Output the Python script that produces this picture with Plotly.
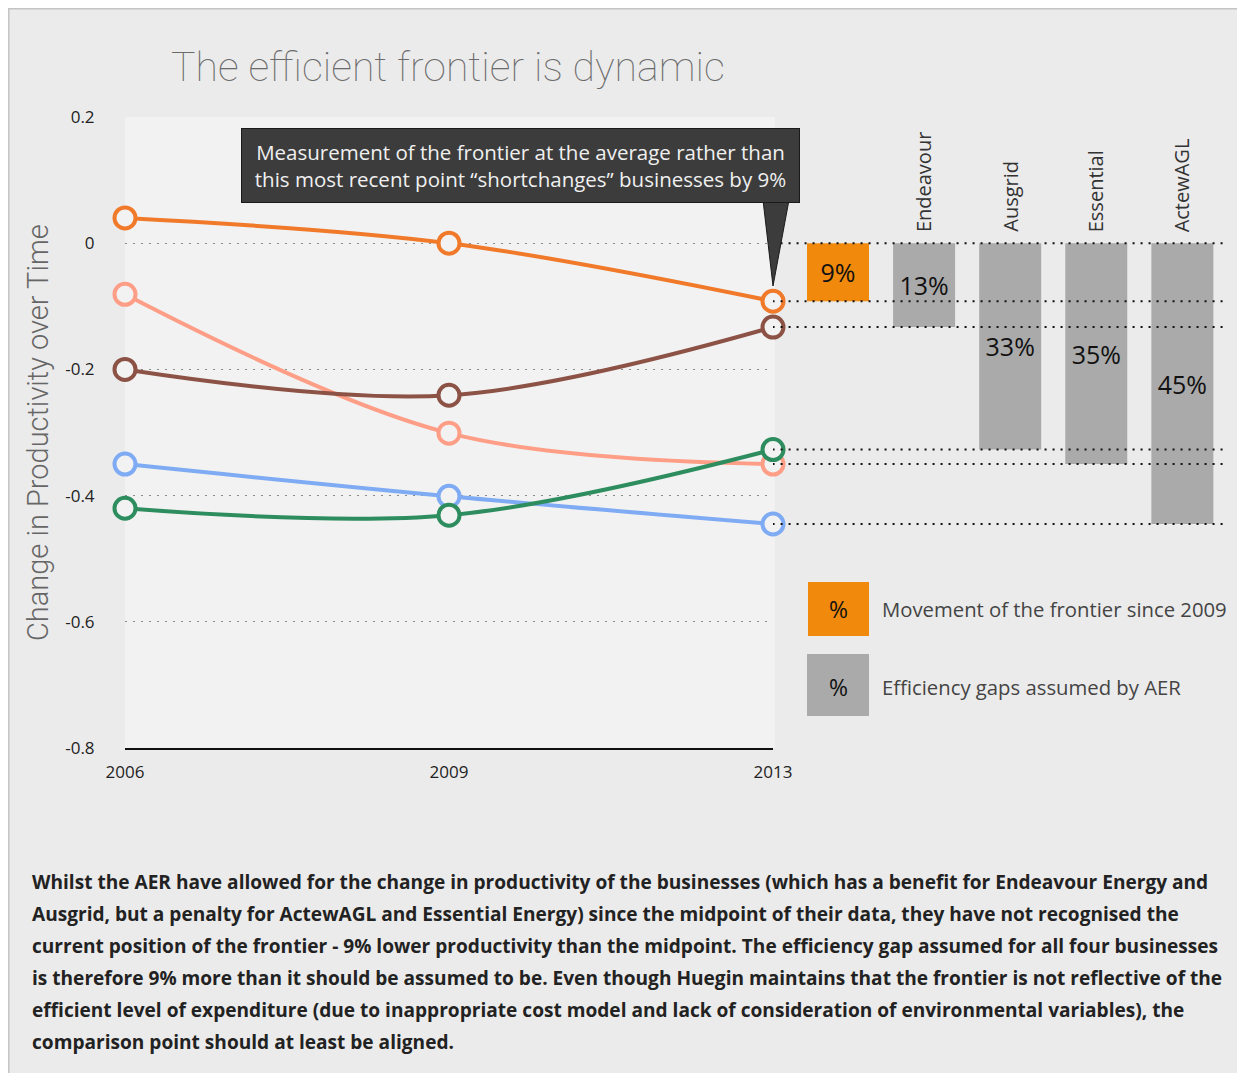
import plotly.graph_objects as go

# page offset: the html body adds an 8px margin around the figure
OFF = 8
W, H = 1245 - OFF, 1073 - OFF

# line chart data (change in productivity)
years = ["2006", "2009", "2013"]
frontier = [0.04, 0.0, -0.092]
essential = [-0.081, -0.301, -0.35]
endeavour = [-0.2, -0.241, -0.133]
actewagl = [-0.35, -0.401, -0.445]
ausgrid = [-0.42, -0.431, -0.327]

y_tickvals = [0.2, 0, -0.2, -0.4, -0.6, -0.8]
y_ticktext = ["0.2", "0", "-0.2", "-0.4", "-0.6", "-0.8"]

# bars on the right
bar_names = ["Frontier", "Endeavour", "Ausgrid", "Essential", "ActewAGL"]
bar_labels = ["9%", "13%", "33%", "35%", "45%"]

FONT = "Open Sans"
BG = "#ebebeb"
PLOT_BG = "#f2f2f2"


def px(x):
    return (x - OFF) / W


def py(y):
    return 1 - (y - OFF) / H


fig = go.Figure()

series = [
    ("Essential", essential, "#ff9e86"),
    ("ActewAGL", actewagl, "#7eabf3"),
    ("Endeavour", endeavour, "#8c5245"),
    ("Ausgrid", ausgrid, "#2e8d5e"),
    ("Frontier", frontier, "#f07a2a"),
]
for name, vals, col in series:
    fig.add_trace(go.Scatter(
        x=years, y=vals, name=name, mode="lines+markers",
        line=dict(color=col, width=4, shape="spline", smoothing=1),
        marker=dict(size=21, color=PLOT_BG, line=dict(color=col, width=4)),
        cliponaxis=False, xaxis="x", yaxis="y",
    ))

# dotted connectors from the 2013 points across to the bars
base = frontier[1]
levels = [base, frontier[2], endeavour[2], ausgrid[2], essential[2], actewagl[2]]
cx, cy = [], []
for lv in levels:
    cx += [-0.76, 4.53, None]
    cy += [lv, lv, None]
fig.add_trace(go.Scatter(
    x=cx, y=cy, mode="lines", xaxis="x2", yaxis="y2", hoverinfo="skip",
    line=dict(color="#111111", width=2, dash="2px,6px"), cliponaxis=False,
))

bar_vals = [frontier[2] - base, endeavour[2] - base, ausgrid[2] - base,
            essential[2] - base, actewagl[2] - base]
fig.add_trace(go.Bar(
    x=list(range(len(bar_names))), y=bar_vals, base=base,
    text=bar_labels, textposition="inside", insidetextanchor="middle",
    textangle=0, constraintext="none",
    textfont=dict(family=FONT, size=25, color="#111111"),
    marker=dict(color=["#f18a0c", "#aaaaaa", "#aaaaaa", "#aaaaaa", "#aaaaaa"],
                line=dict(width=0)),
    width=0.72, xaxis="x2", yaxis="y2",
))

ydom = [py(748), py(117)]
fig.update_layout(
    width=W, height=H,
    paper_bgcolor=BG, plot_bgcolor=BG,
    margin=dict(l=0, r=0, t=0, b=0, autoexpand=False),
    showlegend=False,
    font=dict(family=FONT, color="#222222"),
    xaxis=dict(
        domain=[px(125), px(773)], type="category", range=[0, 2],
        showgrid=False, showline=True, linecolor="#111111", linewidth=1.5,
        ticks="outside", ticklen=8, tickcolor="rgba(0,0,0,0)",
        tickfont=dict(size=17, color="#222222"), zeroline=False, automargin=False,
    ),
    yaxis=dict(
        domain=ydom, range=[-0.8, 0.2],
        tickvals=y_tickvals, ticktext=y_ticktext,
        showgrid=True, gridcolor="#8a8a8a", gridwidth=1, griddash="2px,6px",
        zeroline=False, showline=False, automargin=False,
        ticks="outside", ticklen=26, tickcolor="rgba(0,0,0,0)",
        tickfont=dict(size=17, color="#222222"),
    ),
    xaxis2=dict(
        domain=[px(773), px(1228)], range=[-0.755, 4.53],
        visible=False, anchor="y2", automargin=False,
    ),
    yaxis2=dict(
        domain=ydom, range=[-0.8, 0.2], visible=False, anchor="x2", automargin=False,
    ),
)

shapes = [
    # lighter plot area
    dict(type="rect", xref="x domain", yref="y domain", x0=0, x1=1.003, y0=0, y1=1,
         fillcolor=PLOT_BG, line=dict(width=0), layer="below"),
    # outer frame
    dict(type="rect", xref="paper", yref="paper", x0=px(8.8), x1=px(1260),
         y0=py(1090), y1=py(8.8), line=dict(color="#c4c4c4", width=1.5)),
    # legend swatches
    dict(type="rect", xref="paper", yref="paper", x0=px(808), x1=px(869),
         y0=py(636), y1=py(582), fillcolor="#f18a0c", line=dict(width=0)),
    dict(type="rect", xref="paper", yref="paper", x0=px(807), x1=px(869),
         y0=py(716), y1=py(654), fillcolor="#aaaaaa", line=dict(width=0)),
    # callout tail
    dict(type="path", xref="paper", yref="paper",
         path="M %f %f L %f %f L %f %f Z" % (px(763), py(200), px(789), py(200),
                                             px(773), py(286)),
         fillcolor="#3c3c3c", line=dict(color="#1a1a1a", width=1)),
]
fig.update_layout(shapes=shapes)

ann = []
ann.append(dict(
    text="The efficient frontier is dynamic", xref="paper", yref="paper",
    x=px(448), y=py(67), xanchor="center", yanchor="middle", showarrow=False,
    font=dict(family="Roboto", size=41, color="#6a6a6a", weight=100),
))
ann.append(dict(
    text="Change in Productivity over Time", xref="paper", yref="paper",
    x=px(38), y=py(433), xanchor="center", yanchor="middle",
    textangle=-90, showarrow=False,
    font=dict(family="Roboto", size=29, color="#666666", weight=300),
))
ann.append(dict(
    text="Measurement of the frontier at the average rather than<br>"
         "this most recent point \u201cshortchanges\u201d businesses by 9%",
    xref="paper", yref="paper", x=px(520.5), y=py(165.5),
    xanchor="center", yanchor="middle",
    showarrow=False, align="center",
    width=553, height=69, borderpad=2, borderwidth=1,
    bgcolor="#3c3c3c", bordercolor="#1a1a1a",
    font=dict(family=FONT, size=20.5, color="#f0f0f0"),
))
for i, name in enumerate(bar_names[1:], start=1):
    ann.append(dict(
        text=name, xref="x2", yref="paper", x=i, y=py(234),
        textangle=-90, xanchor="center", yanchor="bottom", showarrow=False,
        font=dict(family=FONT, size=20, color="#333333"),
    ))
for yc in (609, 687):
    ann.append(dict(text="%", xref="paper", yref="paper", x=px(838.5), y=py(yc),
                    xanchor="center", yanchor="middle",
                    showarrow=False, font=dict(family=FONT, size=23, color="#111111")))
ann.append(dict(text="Movement of the frontier since 2009", xref="paper", yref="paper",
                x=px(880), y=py(609), xanchor="left", yanchor="middle", showarrow=False,
                font=dict(family=FONT, size=20.3, color="#444444")))
ann.append(dict(text="Efficiency gaps assumed by AER", xref="paper", yref="paper",
                x=px(880), y=py(687), xanchor="left", yanchor="middle", showarrow=False,
                font=dict(family=FONT, size=20.3, color="#444444")))

body = [
    "Whilst the AER have allowed for the change in productivity of the businesses (which has a benefit for Endeavour Energy and",
    "Ausgrid, but a penalty for ActewAGL and Essential Energy) since the midpoint of their data, they have not recognised the",
    "current position of the frontier - 9% lower productivity than the midpoint. The efficiency gap assumed for all four businesses",
    "is therefore 9% more than it should be assumed to be. Even though Huegin maintains that the frontier is not reflective of the",
    "efficient level of expenditure (due to inappropriate cost model and lack of consideration of environmental variables), the",
    "comparison point should at least be aligned.",
]
for i, line in enumerate(body):
    ann.append(dict(text=line, xref="paper", yref="paper", x=px(30), y=py(882 + 32 * i),
                    xanchor="left", yanchor="middle", showarrow=False,
                    font=dict(family=FONT, size=19.1, color="#222222", weight="bold")))

fig.update_layout(annotations=ann)

fig.write_html("out.html")
